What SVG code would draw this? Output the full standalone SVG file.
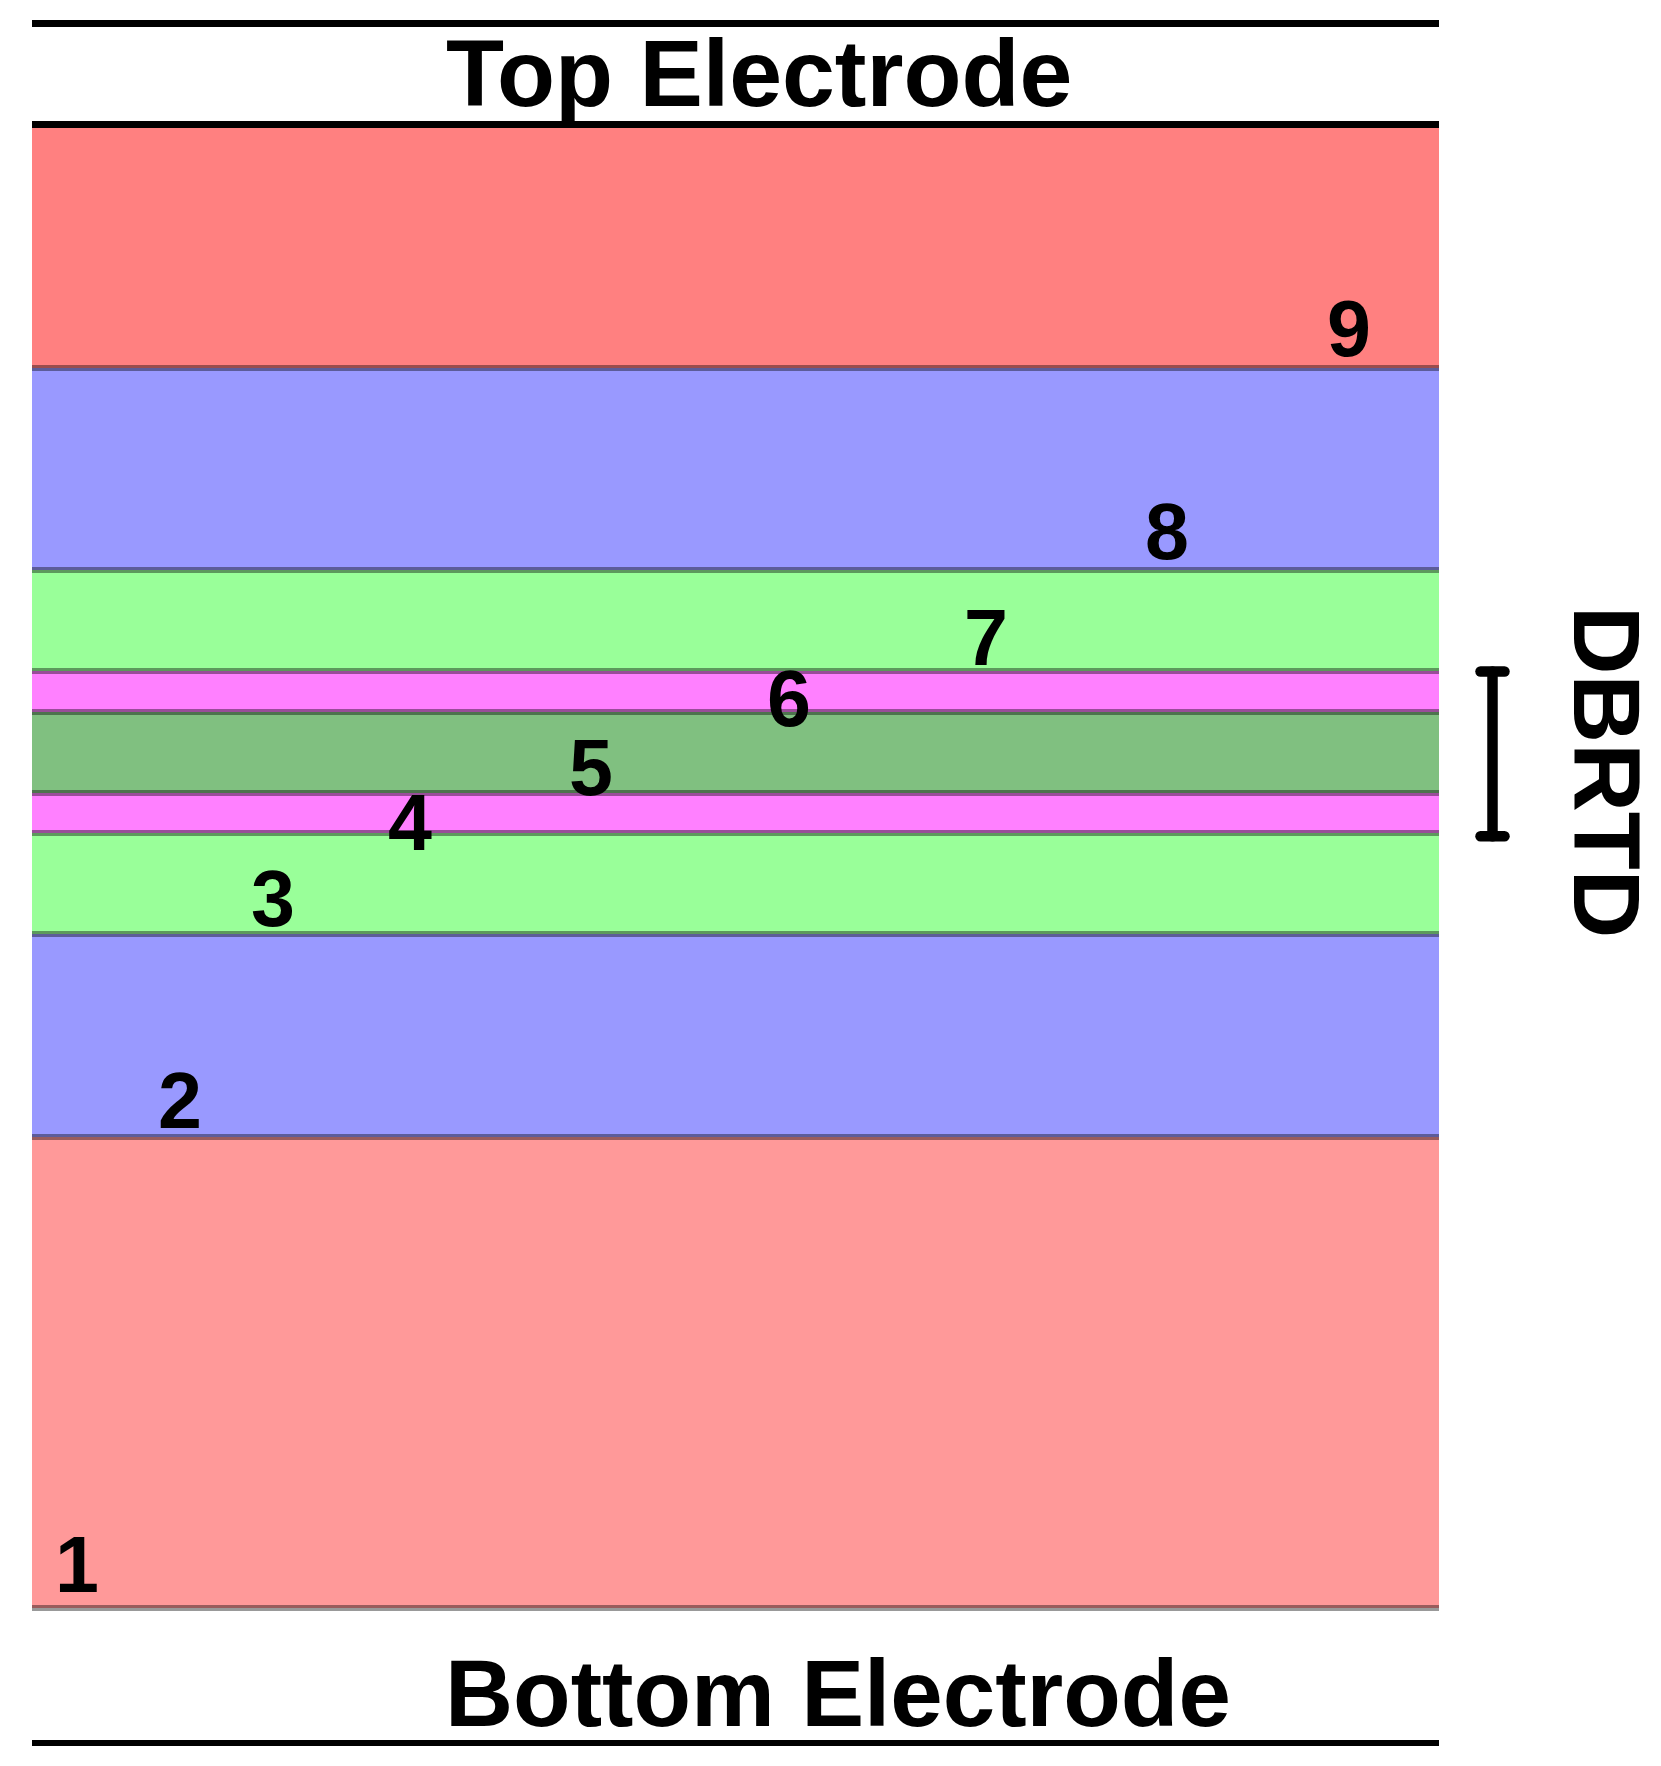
<svg xmlns="http://www.w3.org/2000/svg" width="1661" height="1766" viewBox="0 0 1661 1766">
<style>
.lbl{font-family:"Liberation Sans",Arial,Helvetica,sans-serif;font-weight:bold;font-size:79px;fill:#000;text-anchor:middle}
.big{font-family:"Liberation Sans",Arial,Helvetica,sans-serif;font-weight:bold;font-size:95px;fill:#000}
.edge{fill:#000;fill-opacity:0.4}
</style>
<rect x="0" y="0" width="1661" height="1766" fill="#ffffff"/>
<g id="layers">
<g id="layer9"><rect x="32" y="128" width="1407" height="240" fill="#FF8080"/></g>
<g id="layer8"><rect x="32" y="368" width="1407" height="202" fill="#9999FF"/></g>
<g id="layer7"><rect x="32" y="570" width="1407" height="101" fill="#99FF99"/></g>
<g id="layer6"><rect x="32" y="671" width="1407" height="41" fill="#FF80FF"/></g>
<g id="layer5"><rect x="32" y="712" width="1407" height="81" fill="#80C080"/></g>
<g id="layer4"><rect x="32" y="793" width="1407" height="40" fill="#FF80FF"/></g>
<g id="layer3"><rect x="32" y="833" width="1407" height="101" fill="#99FF99"/></g>
<g id="layer2"><rect x="32" y="934" width="1407" height="203" fill="#9999FF"/></g>
<g id="layer1"><rect x="32" y="1137" width="1407" height="471" fill="#FF9999"/></g>
</g>
<g id="boundaries">
<rect class="edge" x="32" y="365" width="1407" height="6"/>
<rect class="edge" x="32" y="567" width="1407" height="6"/>
<rect class="edge" x="32" y="668" width="1407" height="6"/>
<rect class="edge" x="32" y="709" width="1407" height="6"/>
<rect class="edge" x="32" y="790" width="1407" height="6"/>
<rect class="edge" x="32" y="830" width="1407" height="6"/>
<rect class="edge" x="32" y="931" width="1407" height="6"/>
<rect class="edge" x="32" y="1134" width="1407" height="6"/>
<rect class="edge" x="32" y="1605" width="1407" height="6"/>
</g>
<g id="electrodes">
<rect x="32" y="20" width="1407" height="7" fill="#000"/>
<rect x="32" y="121" width="1407" height="7" fill="#000"/>
<rect x="32" y="1740" width="1407" height="6" fill="#000"/>
<text id="top-electrode" class="big" x="446" y="106">Top Electrode</text>
<text id="bottom-electrode" class="big" x="445" y="1726" style="font-size:94.3px">Bottom Electrode</text>
</g>
<g id="labels">
<text class="lbl" x="77" y="1592">1</text>
<text class="lbl" x="180" y="1128">2</text>
<text class="lbl" x="273" y="926">3</text>
<text class="lbl" x="410" y="850">4</text>
<text class="lbl" x="591" y="795">5</text>
<text class="lbl" x="789" y="726">6</text>
<text class="lbl" x="986" y="665">7</text>
<text class="lbl" x="1167" y="559">8</text>
<text class="lbl" x="1349" y="356">9</text>
</g>
<g id="dbrtd">
<g fill="none" stroke="#000" stroke-width="10.5" stroke-linecap="round">
<line x1="1492.5" y1="671.5" x2="1492.5" y2="836.3"/>
<line x1="1480.5" y1="671.5" x2="1504.5" y2="671.5"/>
<line x1="1480.5" y1="836.3" x2="1504.5" y2="836.3"/>
</g>
<text class="big" transform="translate(1574,606) rotate(90)" x="0" y="0">DBRTD</text>
</g>
</svg>
